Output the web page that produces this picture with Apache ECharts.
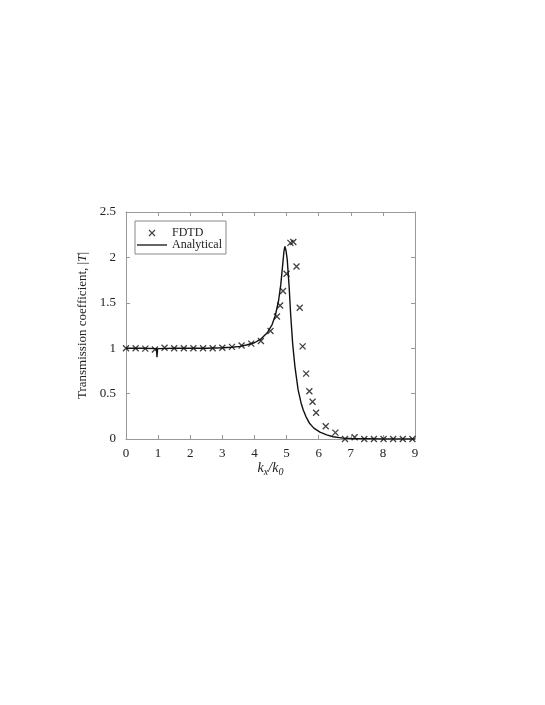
<!DOCTYPE html>
<html>
<head>
<meta charset="utf-8">
<script src="https://cdn.jsdelivr.net/npm/echarts@6/dist/echarts.min.js"></script>
<style>html,body{margin:0;padding:0;background:#fff;}#c{width:545px;height:705px;}</style>
</head>
<body>
<div id="c"></div>
<script>
// FDTD samples [kx/k0, |T|]
var fdtdX = [0,0.3,0.6,0.9,1.2,1.5,1.8,2.1,2.4,2.7,3.0,3.3,3.6,3.9,4.2,4.5,4.7,4.8,4.89,5.0,5.12,5.21,5.31,5.41,5.5,5.61,5.71,5.81,5.92,6.22,6.52,6.82,7.12,7.42,7.72,8.02,8.32,8.62,8.92];
var fdtdY = [1.0,1.0,0.995,0.985,1.005,1.0,1.0,1.0,1.0,1.0,1.005,1.015,1.03,1.05,1.08,1.19,1.35,1.47,1.63,1.82,2.16,2.17,1.9,1.445,1.02,0.72,0.525,0.41,0.29,0.14,0.07,0.0,0.02,0.0,0.0,0.0,0.0,0.0,0.0];
// Analytical curve
var anaX = [0,0.5,0.95,0.965,0.975,0.985,1.0,1.5,2.0,2.5,3.0,3.3,3.55,3.75,4.0,4.2,4.4,4.55,4.65,4.75,4.82,4.88,4.92,4.95,4.98,5.02,5.08,5.13,5.19,5.26,5.36,5.45,5.52,5.6,5.72,5.85,6.04,6.25,6.45,6.76,7.0,8.0,9.0];
var anaY = [1.0,1.0,0.995,0.9,0.96,0.995,1.0,1.0,1.0,1.0,1.005,1.01,1.02,1.035,1.06,1.1,1.17,1.26,1.36,1.52,1.7,1.92,2.07,2.12,2.08,1.98,1.68,1.36,1.05,0.8,0.54,0.4,0.32,0.25,0.17,0.12,0.075,0.045,0.025,0.01,0.005,0.0,0.0];
var xTicks = [0,1,2,3,4,5,6,7,8,9];
var yTicks = [0,0.5,1,1.5,2,2.5];

var fdtd = fdtdX.map(function(x,i){return [x,fdtdY[i]];});
var ana = anaX.map(function(x,i){return [x,anaY[i]];});
var font = 'Liberation Serif, Times New Roman, serif';
var axisCol = '#999';
var txt = '#222';
var xPath = 'path://M0,0L10,10M10,0L0,10';
function baseAxis(extra){
  var a = {
    axisLine:{show:true,onZero:false,lineStyle:{color:axisCol,width:1}},
    axisTick:{show:true,inside:true,length:4,lineStyle:{color:axisCol}},
    splitLine:{show:false},
    axisLabel:{color:txt,fontFamily:font,fontSize:13}
  };
  for (var k in extra) a[k]=extra[k];
  return a;
}
var chart = echarts.init(document.getElementById('c'),null,{renderer:'canvas'});
chart.setOption({
  animation:false,
  backgroundColor:'#fff',
  grid:{left:126,right:130,top:212,bottom:266},
  legend:{
    left:135, top:221, orient:'vertical',
    itemWidth:30, itemHeight:6, itemGap:0,
    padding:[6,4,3,2],
    borderColor:'#888', borderWidth:1,
    textStyle:{color:txt,fontFamily:font,fontSize:12,lineHeight:12},
    data:[
      {name:'FDTD',icon:xPath,itemStyle:{color:'none',borderColor:'#111',borderWidth:1.2}},
      {name:'Analytical',icon:'path://M0,0L30,0L30,1.3L0,1.3Z',itemStyle:{color:'#111',borderWidth:0}}
    ]
  },
  xAxis:[
    baseAxis({type:'value',min:0,max:9,interval:1,position:'bottom',
      name:'{i|k}{s|x}{i|/k}{s|0}',nameLocation:'middle',nameGap:20,
      nameTextStyle:{color:txt,fontFamily:font,rich:{
        i:{fontStyle:'italic',fontFamily:font,fontSize:14,color:txt},
        s:{fontStyle:'italic',fontFamily:font,fontSize:10,color:txt,padding:[8,0,0,0]}
      }},
      axisLabel:{color:txt,fontFamily:font,fontSize:13,margin:8}}),
    baseAxis({type:'value',min:0,max:9,interval:1,position:'top',axisLabel:{show:false}})
  ],
  yAxis:[
    baseAxis({type:'value',min:0,max:2.5,interval:0.5,position:'left',
      name:'Transmission coefficient, |{i|T}|',nameLocation:'middle',nameGap:31,
      nameTextStyle:{color:txt,fontFamily:font,fontSize:13,rich:{
        i:{fontStyle:'italic',fontFamily:font,fontSize:13,color:txt}
      }},
      axisLabel:{color:txt,fontFamily:font,fontSize:13,margin:10}}),
    baseAxis({type:'value',min:0,max:2.5,interval:0.5,position:'right',axisLabel:{show:false}})
  ],
  series:[
    {name:'FDTD',type:'scatter',data:fdtd,xAxisIndex:0,yAxisIndex:0,
      symbol:xPath,symbolSize:6,
      itemStyle:{color:'none',borderColor:'#111',borderWidth:1.3},z:3},
    {name:'Analytical',type:'line',data:ana,xAxisIndex:0,yAxisIndex:0,
      showSymbol:false,symbol:'none',smooth:false,
      lineStyle:{color:'#111',width:1.4},itemStyle:{color:'#111'},z:2}
  ]
});
</script>
</body>
</html>
